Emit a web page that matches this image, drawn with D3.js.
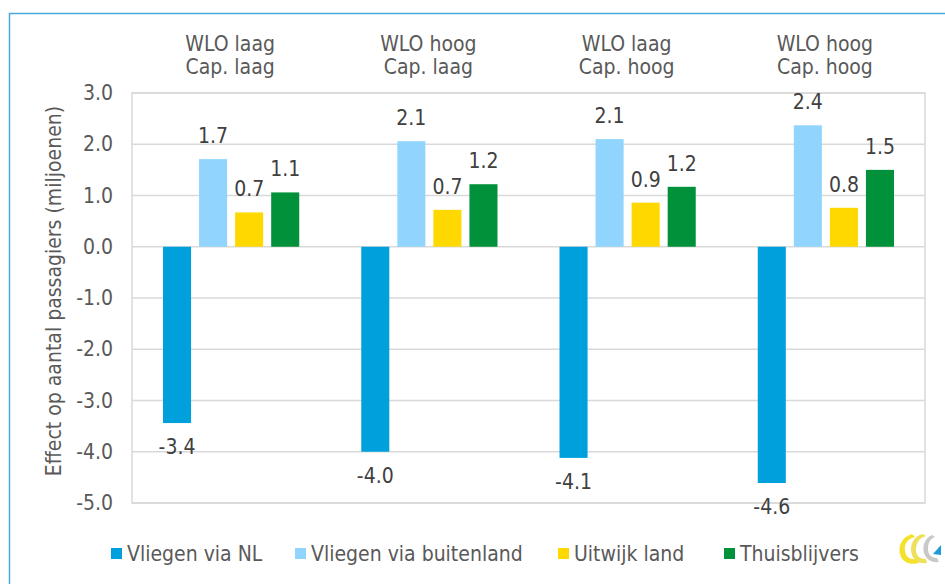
<!DOCTYPE html>
<html>
<head>
<meta charset="utf-8">
<script src="https://cdn.jsdelivr.net/npm/d3@7"></script>
<style>
  html, body { margin: 0; padding: 0; background: #fff; }
  svg { display: block; font-family: "DejaVu Sans Condensed", "DejaVu Sans", sans-serif; font-stretch: condensed; }
</style>
</head>
<body>
<svg id="chart" width="945" height="584"></svg>
<script>
const categoriesLine1 = ["WLO laag", "WLO hoog", "WLO laag", "WLO hoog"];
const categoriesLine2 = ["Cap. laag", "Cap. laag", "Cap. hoog", "Cap. hoog"];
const seriesNames = ["Vliegen via NL", "Vliegen via buitenland", "Uitwijk land", "Thuisblijvers"];
const vliegenViaNL = [-3.44, -4.0, -4.12, -4.61];
const vliegenViaBuitenland = [1.71, 2.06, 2.1, 2.37];
const uitwijkLand = [0.67, 0.72, 0.86, 0.76];
const thuisblijvers = [1.06, 1.22, 1.17, 1.5];
const yTicks = [3, 2, 1, 0, -1, -2, -3, -4, -5];
const colors = ["#00A0DC", "#91D4FE", "#FFD800", "#00913A"];

const fmt = v => v.toFixed(1); // hyphen-minus as in the reference
const FS = 21;

const allSeries = [vliegenViaNL, vliegenViaBuitenland, uitwijkLand, thuisblijvers];
const groups = categoriesLine1.map((c, i) => ({
  idx: i, l1: c, l2: categoriesLine2[i],
  values: allSeries.map((s, j) => ({ key: seriesNames[j], value: s[i], color: colors[j] }))
}));

const svg = d3.select("#chart");
const L = 132, R = 925, T = 93, B = 503;

// outer frame lines (top and left)
svg.append("line").attr("x1", 9).attr("x2", 945).attr("y1", 13.5).attr("y2", 13.5)
  .attr("stroke", "#4BA9D9").attr("stroke-width", 1.5);
svg.append("line").attr("x1", 9.5).attr("x2", 9.5).attr("y1", 13).attr("y2", 584)
  .attr("stroke", "#4BA9D9").attr("stroke-width", 1.5);

const y = d3.scaleLinear().domain([-5, 3]).range([B, T]);
const x0 = d3.scaleBand().domain(d3.range(4)).range([L, R]).padding(0);
const x1 = d3.scaleBand().domain(seriesNames).range([0, x0.bandwidth()])
  .paddingInner(0.222).paddingOuter(0.86);

// gridlines
svg.append("g").selectAll("line").data(yTicks).join("line")
  .attr("x1", L).attr("x2", R)
  .attr("y1", d => y(d)).attr("y2", d => y(d))
  .attr("stroke", "#D9D9D9").attr("stroke-width", 1.5);
// plot frame
svg.append("rect").attr("x", L).attr("y", T).attr("width", R - L).attr("height", B - T)
  .attr("fill", "none").attr("stroke", "#D9D9D9").attr("stroke-width", 1.5);

// y axis tick labels
const yAxis = d3.axisLeft(y).tickValues(yTicks).tickFormat(fmt).tickSize(0).tickPadding(19);
const ga = svg.append("g").attr("transform", `translate(${L},0)`).call(yAxis);
ga.select(".domain").remove();
ga.selectAll("text").attr("font-size", FS).attr("fill", "#595959")
  .attr("font-family", "\"DejaVu Sans Condensed\", \"DejaVu Sans\", sans-serif");

// y axis title
svg.append("text").attr("transform", "translate(61,291) rotate(-90)")
  .attr("text-anchor", "middle").attr("font-size", FS).attr("fill", "#595959")
  .text("Effect op aantal passagiers (miljoenen)");

// bars
const g = svg.append("g").selectAll("g").data(groups).join("g")
  .attr("transform", d => `translate(${x0(d.idx)},0)`);
g.selectAll("rect").data(d => d.values).join("rect")
  .attr("x", d => x1(d.key)).attr("width", x1.bandwidth())
  .attr("y", d => y(Math.max(0, d.value)))
  .attr("height", d => Math.abs(y(d.value) - y(0)))
  .attr("fill", d => d.color);
g.selectAll("text.val").data(d => d.values).join("text").attr("class", "val")
  .attr("x", d => x1(d.key) + x1.bandwidth() / 2)
  .attr("y", d => d.value >= 0 ? y(d.value) - 16 : y(d.value) + 31)
  .attr("text-anchor", "middle").attr("font-size", FS).attr("fill", "#404040")
  .text(d => fmt(d.value));

// category labels
g.append("text").attr("x", x0.bandwidth() / 2 - 1).attr("y", 51)
  .attr("text-anchor", "middle").attr("font-size", FS).attr("fill", "#595959").text(d => d.l1);
g.append("text").attr("x", x0.bandwidth() / 2 - 1).attr("y", 74)
  .attr("text-anchor", "middle").attr("font-size", FS).attr("fill", "#595959").text(d => d.l2);

// legend
const legendX = [111, 295, 558, 724];
const lg = svg.append("g").selectAll("g").data(seriesNames).join("g")
  .attr("transform", (d, i) => `translate(${legendX[i]},548)`);
lg.append("rect").attr("width", 11).attr("height", 11).attr("fill", (d, i) => colors[i]);
lg.append("text").attr("x", 16).attr("y", 12.5).attr("font-size", FS).attr("fill", "#595959").text(d => d);

// logo (approximation)
const logo = svg.append("g").attr("transform", "translate(898,533)");
logo.append("path").attr("d", "M14,1 C3,4 -1,15 3,24 C6,30 13,32 21,30 L19,26 C12,27 8,24 7,18 C6,11 9,6 17,4 Z").attr("fill", "#F5E12A");
logo.append("path").attr("d", "M25,1 C15,3 11,13 14,22 C16,28 22,31 29,30 L28,26 C21,26 18,22 18,17 C18,10 21,5 28,3 Z").attr("fill", "#EEE05A");
logo.append("path").attr("d", "M34,2 C27,5 24,13 26,20 C28,26 33,30 41,29 L39,25 C33,25 30,21 30,16 C30,10 32,6 37,4 Z").attr("fill", "#C9C9C9");
logo.append("path").attr("d", "M35,21 L43,12 L43,22 Z").attr("fill", "#1E9BD7");
</script>
</body>
</html>
